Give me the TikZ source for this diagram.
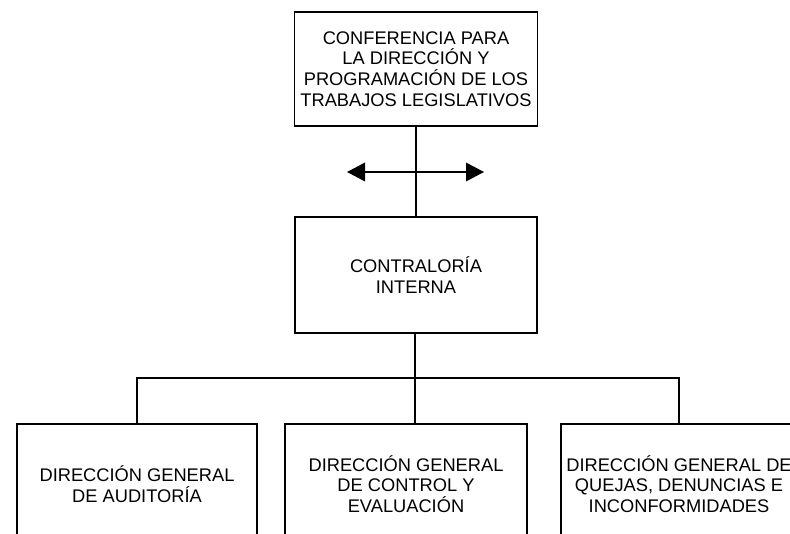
\documentclass[tikz,border=0pt]{standalone}
\usepackage{fontspec}
\setmainfont{Liberation Sans}
\usetikzlibrary{arrows.meta}

\tikzset{every picture/.style={line width=1pt}}
\tikzset{orgbox/.style={draw, rectangle, inner sep=0.75pt, align=center,
    font=\fontsize{13.7}{15.6}\selectfont}}

\begin{document}
\begin{tikzpicture}[x=0.75pt,y=0.75pt,yscale=-1,xscale=1]
%set diagram: 790 x 534, boxes at the bottom run off the page
\useasboundingbox (0,0) rectangle (790,534);
\clip (0,0) rectangle (790,534);

% Text Node
\node (conf) [orgbox, minimum width=182.25pt, minimum height=85.5pt] at (416,69)
  {CONFERENCIA PARA\\LA DIRECCIÓN Y\\PROGRAMACIÓN DE LOS\\TRABAJOS LEGISLATIVOS};
% Text Node
\node (contra) [orgbox, minimum width=181.5pt, minimum height=87pt] at (416,275)
  {CONTRALORÍA\\INTERNA};
% Text Node
\node (audit) [orgbox, minimum width=180pt, minimum height=90pt] at (137,484)
  {DIRECCIÓN GENERAL\\DE AUDITORÍA};
% Text Node
\node (control) [orgbox, minimum width=181.5pt, minimum height=90pt] at (406,484)
  {DIRECCIÓN GENERAL\\DE CONTROL Y\\EVALUACIÓN};
% Text Node
\node (quejas) [orgbox, minimum width=177pt, minimum height=90pt] at (679,484)
  {DIRECCIÓN GENERAL DE\\QUEJAS, DENUNCIAS E\\INCONFORMIDADES};

%Straight Lines
\draw (conf.south) -- (conf.south |- contra.north) ;
%Straight Lines
\coordinate (izq) at (347,172) ;
\coordinate (der) at (484,172) ;
\draw [{Triangle[length=13.5pt,width=14pt]}-{Triangle[length=13.5pt,width=14pt]}] (izq) -- (der) ;
%Straight Lines
\coordinate (bus) at (415,378) ;
\draw (contra.south -| bus) -- (bus) ;
\draw (audit.north) |- (bus) -| (quejas.north) ;
\draw (bus) -- (bus |- control.north) ;

\end{tikzpicture}
\end{document}
